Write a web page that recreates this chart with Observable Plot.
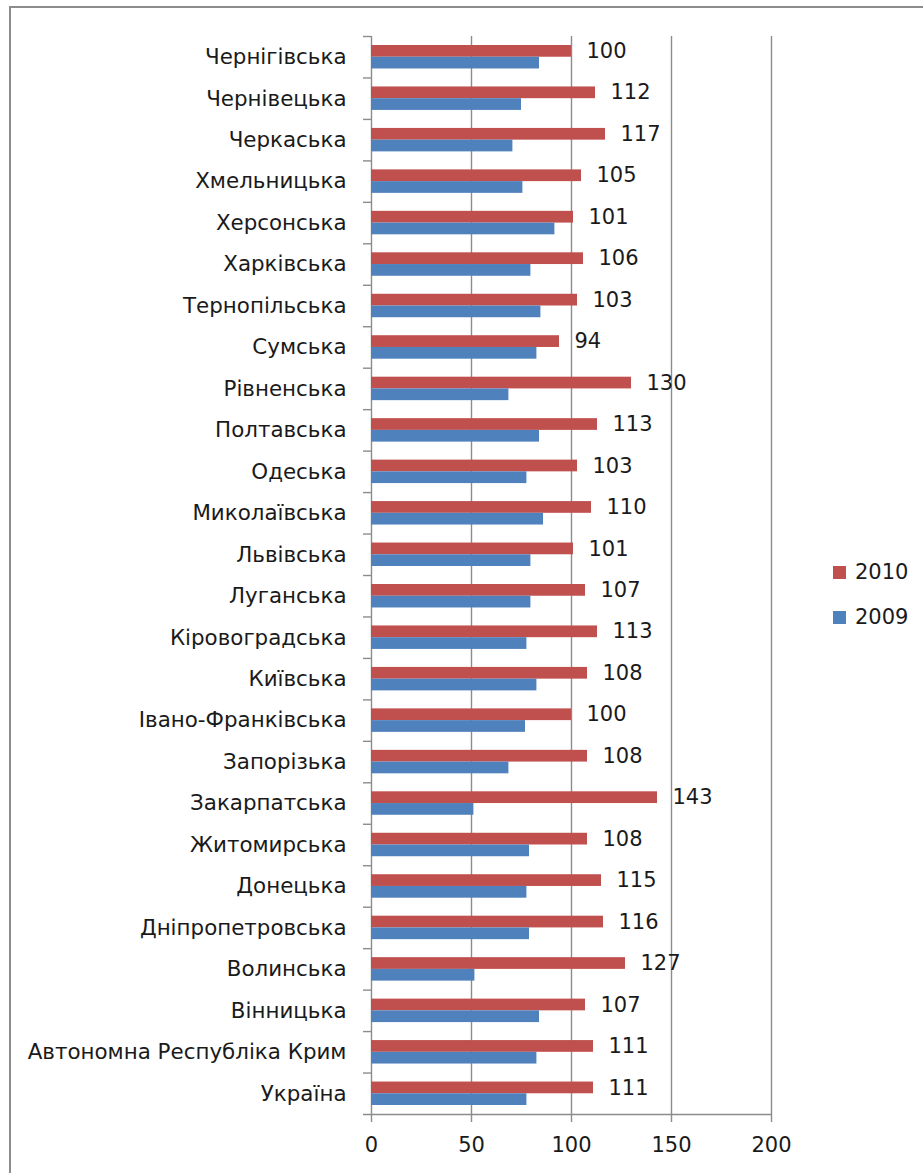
<!DOCTYPE html>
<html>
<head>
<meta charset="utf-8">
<script src="https://cdn.jsdelivr.net/npm/d3@7"></script>
<script src="https://cdn.jsdelivr.net/npm/@observablehq/plot@0.6"></script>
<style>
  html, body { margin: 0; padding: 0; background: #fff; overflow: hidden; }
  #wrap { position: relative; width: 923px; height: 1173px; overflow: hidden; font-family: "DejaVu Sans", sans-serif; }
  #frame { position: absolute; left: 9px; top: 6px; width: 1000px; height: 1300px; border-top: 2px solid #8c8c8c; border-left: 2px solid #8c8c8c; }
  #chart { position: absolute; left: 0; top: 0; }
  .lg { position: absolute; left: 833px; display: flex; align-items: center; font-size: 21px; color: #1a1a1a; }
  .lg span.sw { display: inline-block; width: 13px; height: 13px; margin-right: 9px; }
</style>
</head>
<body>
<div id="wrap">
  <div id="frame"></div>
  <div id="chart"></div>
  <div id="legend"></div>
</div>
<script>
const regions = [
  "Чернігівська", "Чернівецька", "Черкаська", "Хмельницька", "Херсонська",
  "Харківська", "Тернопільська", "Сумська", "Рівненська", "Полтавська",
  "Одеська", "Миколаївська", "Львівська", "Луганська", "Кіровоградська",
  "Київська", "Івано-Франківська", "Запорізька", "Закарпатська", "Житомирська",
  "Донецька", "Дніпропетровська", "Волинська", "Вінницька",
  "Автономна Республіка Крим", "Україна"
];
const values2010 = [100, 112, 117, 105, 101, 106, 103, 94, 130, 113, 103, 110, 101, 107, 113, 108, 100, 108, 143, 108, 115, 116, 127, 107, 111, 111];
const values2009 = [84, 75, 70.7, 75.7, 91.7, 79.7, 84.7, 82.7, 68.7, 84, 77.7, 86, 79.7, 79.7, 77.7, 82.7, 77, 68.7, 51.2, 79, 77.7, 79, 51.7, 84, 82.7, 77.7];
const years = ["2010", "2009"];
const colors = ["#C0504D", "#4F81BD"];
const xTicks = [0, 50, 100, 150, 200];

const rows2010 = regions.map((r, i) => ({region: r, year: years[0], value: values2010[i]}));
const rows2009 = regions.map((r, i) => ({region: r, year: years[1], value: values2009[i]}));

const W = 923, H = 1173, mt = 36, mb = 59, ml = 371, mr = 152;
const bw = (H - mt - mb) / regions.length;
const grey = "#8c8c8c";
const ink = "#1a1a1a";

const chart = Plot.plot({
  width: W, height: H,
  marginTop: mt, marginBottom: mb, marginLeft: ml, marginRight: mr,
  style: {fontFamily: "DejaVu Sans, sans-serif", fontSize: "21px", color: ink, background: "transparent"},
  x: {domain: [0, 200]},
  y: {domain: regions, padding: 0, round: false},
  color: {domain: years, range: colors},
  marks: [
    Plot.ruleX(xTicks.slice(1), {stroke: grey, strokeWidth: 1.4}),
    Plot.ruleX([0], {stroke: grey, strokeWidth: 1.4}),
    Plot.ruleY(regions, {y: d => d, x1: 0, x2: 0, insetLeft: -8, dy: -bw / 2, stroke: grey, strokeWidth: 1.4}),
    Plot.ruleY([regions[regions.length - 1]], {y: d => d, dy: bw / 2, insetLeft: -8, stroke: grey, strokeWidth: 1.4}),
    Plot.barX(rows2010, {x: "value", y: "region", fill: "year", insetTop: 9, insetBottom: bw / 2}),
    Plot.barX(rows2009, {x: "value", y: "region", fill: "year", insetTop: bw / 2, insetBottom: 9}),
    Plot.text(rows2010, {x: "value", y: "region", text: d => String(d.value), dx: 15, dy: -6, textAnchor: "start", fontSize: 21, fill: ink}),
    Plot.axisY({tickSize: 0, tickPadding: 25, label: null, fontSize: 21.4}),
    Plot.axisX({ticks: xTicks, tickSize: 8, tickPadding: 15, label: null, fontSize: 21, stroke: grey, strokeWidth: 1.4})
  ]
});
document.getElementById("chart").appendChild(chart);

const legend = document.getElementById("legend");
const legendTops = [560, 605];
years.forEach((y, i) => {
  const d = document.createElement("div");
  d.className = "lg";
  d.style.top = legendTops[i] + "px";
  d.innerHTML = `<span class="sw" style="background:${colors[i]}"></span><span>${y}</span>`;
  legend.appendChild(d);
});
</script>
</body>
</html>
